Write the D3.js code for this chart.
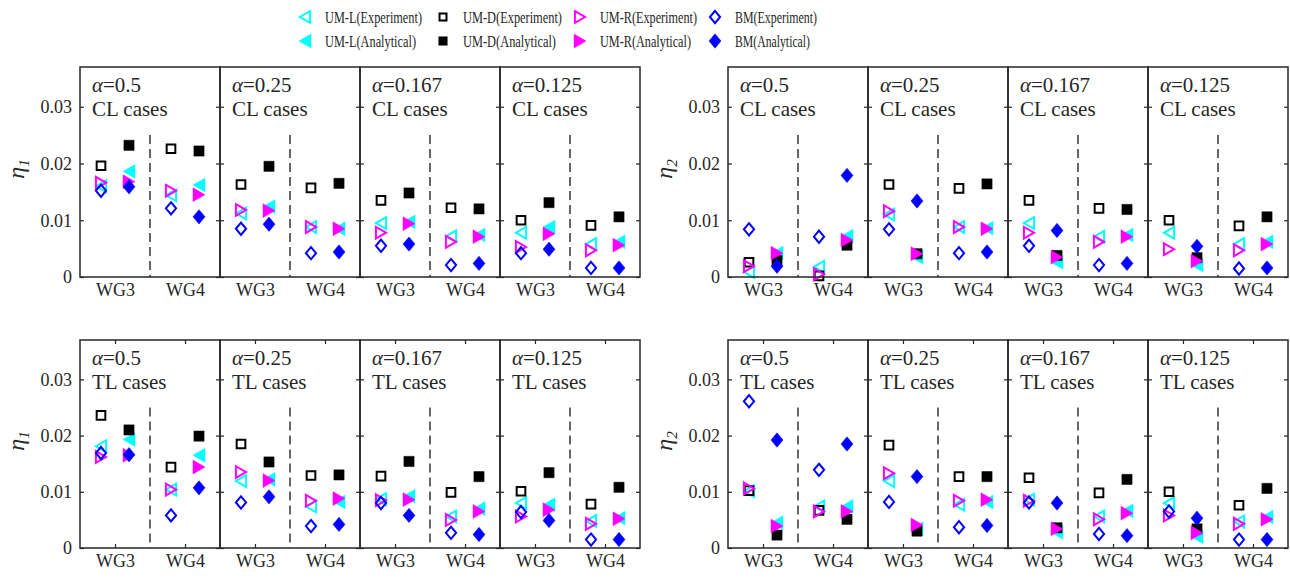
<!DOCTYPE html>
<html>
<head>
  <meta charset="UTF-8">
  <title>eta-scatter</title>
  <style type="text/css">
    body { margin: 0; background: #fff; }
    svg text { font-family: "Liberation Serif", "Times New Roman", "DejaVu Serif", serif !important; fill: #262626; }
    .frame { fill: none; stroke: #262626; stroke-width: 1.5px; }
    .tick line { stroke: #262626; stroke-width: 1.2px; }
    .axis path { display: none; }
    .split { stroke: #262626; stroke-width: 1.4px; stroke-dasharray: 9, 5; }
  </style>
</head>
<body>
  <div class="svg-zone"></div>
  <script src="https://cdn.jsdelivr.net/npm/d3@7"></script>
  <script type="text/javascript">
    var alphas = ["0.5", "0.25", "0.167", "0.125"];
    var gauges = ["WG3", "WG4"];
    var seriesNames = ["UM-L", "UM-D", "UM-R", "BM"];
    var yTicks = [0, 0.01, 0.02, 0.03];
    var yTickLabels = ["0", "0.01", "0.02", "0.03"];

    // rows: UM-L, UM-D, UM-R, BM
    // cols: a=0.5 WG3, WG4 | a=0.25 WG3, WG4 | a=0.167 WG3, WG4 | a=0.125 WG3, WG4
    var eta1CL_exp = [
      [0.0160, 0.0144, 0.0112, 0.0088, 0.0095, 0.0072, 0.0078, 0.0058],
      [0.0196, 0.0226, 0.0163, 0.0157, 0.0135, 0.0122, 0.0100, 0.0091],
      [0.0166, 0.0152, 0.0118, 0.0088, 0.0078, 0.0062, 0.0053, 0.0047],
      [0.0152, 0.0121, 0.0085, 0.0042, 0.0055, 0.0021, 0.0042, 0.0016]
    ];
    var eta1CL_ana = [
      [0.0186, 0.0162, 0.0124, 0.0085, 0.0097, 0.0074, 0.0088, 0.0062],
      [0.0232, 0.0222, 0.0195, 0.0165, 0.0148, 0.0120, 0.0131, 0.0106],
      [0.0168, 0.0145, 0.0117, 0.0085, 0.0094, 0.0071, 0.0076, 0.0056],
      [0.0159, 0.0106, 0.0093, 0.0044, 0.0058, 0.0024, 0.0049, 0.0016]
    ];
    var eta2CL_exp = [
      [0.0009, 0.0018, 0.0110, 0.0088, 0.0095, 0.0071, 0.0078, 0.0058],
      [0.0026, 0.0002, 0.0163, 0.0156, 0.0135, 0.0121, 0.0100, 0.0090],
      [0.0019, 0.0005, 0.0116, 0.0088, 0.0078, 0.0062, 0.0049, 0.0047],
      [0.0084, 0.0071, 0.0084, 0.0042, 0.0055, 0.0021, null, 0.0015]
    ];
    var eta2CL_ana = [
      [0.0042, 0.0072, 0.0035, 0.0086, 0.0026, 0.0074, 0.0021, 0.0062],
      [0.0029, 0.0056, 0.0041, 0.0164, 0.0038, 0.0119, 0.0034, 0.0106],
      [0.0042, 0.0065, 0.0041, 0.0085, 0.0035, 0.0071, 0.0028, 0.0058],
      [0.0019, 0.0179, 0.0134, 0.0044, 0.0082, 0.0024, 0.0054, 0.0016]
    ];
    var eta1TL_exp = [
      [0.0181, 0.0104, 0.0119, 0.0074, 0.0087, 0.0056, 0.0080, 0.0048],
      [0.0236, 0.0144, 0.0185, 0.0129, 0.0128, 0.0099, 0.0101, 0.0078],
      [0.0162, 0.0104, 0.0135, 0.0084, 0.0085, 0.0050, 0.0056, 0.0043],
      [0.0169, 0.0058, 0.0081, 0.0039, 0.0080, 0.0027, 0.0064, 0.0015]
    ];
    var eta1TL_ana = [
      [0.0193, 0.0165, 0.0122, 0.0082, 0.0092, 0.0070, 0.0077, 0.0053],
      [0.0210, 0.0199, 0.0153, 0.0130, 0.0154, 0.0127, 0.0134, 0.0108],
      [0.0165, 0.0144, 0.0120, 0.0088, 0.0086, 0.0065, 0.0068, 0.0052],
      [0.0166, 0.0107, 0.0091, 0.0042, 0.0058, 0.0024, 0.0049, 0.0015]
    ];
    var eta2TL_exp = [
      [0.0101, 0.0074, 0.0119, 0.0077, 0.0086, 0.0056, 0.0080, 0.0047],
      [0.0102, 0.0067, 0.0183, 0.0127, 0.0125, 0.0098, 0.0100, 0.0076],
      [0.0106, 0.0065, 0.0133, 0.0084, 0.0084, 0.0051, 0.0058, 0.0043],
      [0.0261, 0.0139, 0.0082, 0.0037, 0.0081, 0.0025, 0.0065, 0.0015]
    ];
    var eta2TL_ana = [
      [0.0045, 0.0074, 0.0034, 0.0082, 0.0028, 0.0066, 0.0020, 0.0055],
      [0.0023, 0.0051, 0.0030, 0.0127, 0.0036, 0.0122, 0.0034, 0.0106],
      [0.0039, 0.0065, 0.0041, 0.0086, 0.0034, 0.0062, 0.0027, 0.0051],
      [0.0192, 0.0185, 0.0127, 0.0040, 0.0080, 0.0022, 0.0053, 0.0015]
    ];

    var width = 1290, height = 579;
    var colors = ["#00ffff", "#000000", "#ff00ff", "#0000ff"];
    var shapes = ["left", "square", "right", "diamond"];
    var serif = "'Liberation Serif', 'Times New Roman', serif";

    var panels = [
      { x0: 80, top: 67, bottom: 277, eta: "1", cases: "CL", exp: eta1CL_exp, ana: eta1CL_ana, xticks: false },
      { x0: 728, top: 67, bottom: 277, eta: "2", cases: "CL", exp: eta2CL_exp, ana: eta2CL_ana, xticks: false },
      { x0: 80, top: 340, bottom: 548, eta: "1", cases: "TL", exp: eta1TL_exp, ana: eta1TL_ana, xticks: true },
      { x0: 728, top: 340, bottom: 548, eta: "2", cases: "TL", exp: eta2TL_exp, ana: eta2TL_ana, xticks: true }
    ];
    var subW = 140;

    function markerPath(shape, s) {
      if (shape === "left") return "M" + s + "," + (-1.15 * s) + "L" + (-s) + ",0L" + s + "," + (1.15 * s) + "Z";
      if (shape === "right") return "M" + (-s) + "," + (-1.15 * s) + "L" + s + ",0L" + (-s) + "," + (1.15 * s) + "Z";
      if (shape === "square") return "M" + (-s) + "," + (-s) + "H" + s + "V" + s + "H" + (-s) + "Z";
      return "M0," + (-1.2 * s) + "L" + s + ",0L0," + (1.2 * s) + "L" + (-s) + ",0Z";
    }

    function drawMarker(g, shape, color, filled, x, y, size) {
      var sq = shape === "square" ? 0.85 : 1;
      g.append("path")
        .attr("d", markerPath(shape, (filled ? size : size - 0.9) * sq))
        .attr("transform", "translate(" + x + "," + y + ")")
        .style("fill", filled ? color : "none")
        .style("stroke", color)
        .style("stroke-width", filled ? 0.5 : 2);
    }

    var svg = d3.select(".svg-zone").append("svg")
      .attr("width", width)
      .attr("height", height)
      .attr("font-family", serif);

    panels.forEach(function (p) {
      var y = d3.scaleLinear().domain([0, 0.037]).range([p.bottom, p.top]);

      alphas.forEach(function (a, ai) {
        var left = p.x0 + ai * subW;
        var x = d3.scaleLinear().domain([0.5, 2.5]).range([left, left + subW]);
        var g = svg.append("g");

        // dashed separator between gauges
        g.append("line").attr("class", "split")
          .attr("x1", x(1.5)).attr("x2", x(1.5))
          .attr("y1", y(0.025)).attr("y2", y(0));

        // markers: experiment left of gauge, analytical right
        gauges.forEach(function (wg, gi) {
          var col = ai * 2 + gi;
          [["exp", -0.2, false], ["ana", 0.2, true]].forEach(function (k) {
            var vals = p[k[0]];
            seriesNames.forEach(function (s, si) {
              var v = vals[si][col];
              if (v == null) return;
              drawMarker(g, shapes[si], colors[si], k[2], x(gi + 1 + k[1]), y(v), 6);
            });
          });
        });

        // y ticks, inward on both sides
        var la = d3.axisLeft(y).tickValues(yTicks).tickSize(-4).tickPadding(8)
          .tickFormat(function (d, i) { return ai > 0 ? "" : yTickLabels[i]; });
        g.append("g").attr("class", "axis")
          .attr("transform", "translate(" + left + ",0)")
          .call(la)
          .attr("font-family", serif)
          .selectAll("text").style("font-size", "18px").style("fill", "#262626");
        g.append("g").attr("class", "axis")
          .attr("transform", "translate(" + (left + subW) + ",0)")
          .call(d3.axisRight(y).tickValues(yTicks).tickSize(-4).tickFormat(""));

        // x axis labels
        var xb = d3.axisBottom(x).tickValues([1, 2])
          .tickFormat(function (d) { return gauges[d - 1]; })
          .tickSize(p.xticks ? -4 : 0).tickPadding(6);
        g.append("g").attr("class", "axis")
          .attr("transform", "translate(0," + p.bottom + ")")
          .call(xb)
          .attr("font-family", serif)
          .selectAll("text").style("font-size", "18px").style("fill", "#262626");
        if (p.xticks) {
          g.append("g").attr("class", "axis")
            .attr("transform", "translate(0," + p.top + ")")
            .call(d3.axisTop(x).tickValues([1, 2]).tickSize(-4).tickFormat(""));
        }

        g.append("rect").attr("class", "frame")
          .attr("x", left).attr("y", p.top)
          .attr("width", subW).attr("height", p.bottom - p.top);

        var t1 = g.append("text")
          .attr("x", left + 12).attr("y", p.top + 25)
          .style("font-size", "21px");
        t1.append("tspan").style("font-style", "italic").text("\u03b1");
        t1.append("tspan").text("=" + a);
        g.append("text")
          .attr("x", left + 12).attr("y", p.top + 49)
          .style("font-size", "21px")
          .text(p.cases + " cases");
      });

      // y label
      var yl = svg.append("text")
        .attr("transform", "translate(" + (p.x0 - 56) + "," + ((p.top + p.bottom) / 2 - 3) + ") rotate(-90)")
        .attr("text-anchor", "middle")
        .style("font-size", "24px")
        .style("font-style", "italic");
      yl.append("tspan").text("\u03b7");
      yl.append("tspan").attr("dy", 5).style("font-size", "15px").text(p.eta);
    });

    // legend
    var legX = [305, 443, 580, 715];
    var legW = [[97, 91], [99, 93], [97, 91], [82, 75]];
    var legY = [17, 41];
    seriesNames.forEach(function (s, si) {
      ["Experiment", "Analytical"].forEach(function (kind, ki) {
        var lg = svg.append("g");
        drawMarker(lg, shapes[si], colors[si], ki === 1, legX[si], legY[ki], si === 1 ? 5 : 6);
        lg.append("text")
          .attr("x", legX[si] + 20).attr("y", legY[ki] + 6)
          .attr("textLength", legW[si][ki])
          .attr("lengthAdjust", "spacingAndGlyphs")
          .style("font-size", "17px")
          .text(s + "(" + kind + ")");
      });
    });
  </script>
</body>
</html>
